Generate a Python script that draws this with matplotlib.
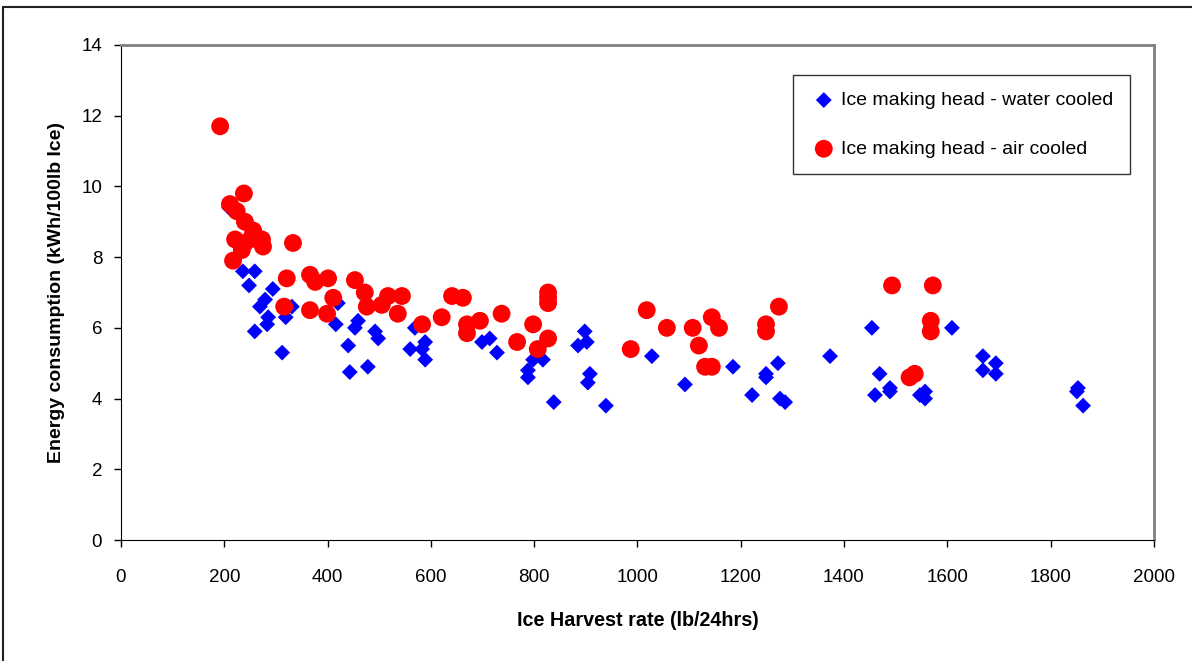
import matplotlib
matplotlib.use("Agg")
import matplotlib.pyplot as plt
import matplotlib.patches as patches

# Ice making head - water cooled
water_x = [209, 236, 259, 248, 294, 279, 269, 285, 283, 259, 331, 319, 312,
           420, 416, 459, 453, 440, 443, 478, 492, 498, 569, 589, 560, 583, 589,
           699, 714, 728, 788, 788, 798, 817, 838, 885, 898, 902, 908, 904, 939,
           1028, 1092, 1185, 1222, 1272, 1249, 1249, 1276, 1286, 1373, 1454,
           1609, 1469, 1460, 1489, 1489, 1547, 1557, 1557, 1669, 1669, 1694,
           1694, 1853, 1851, 1863]
water_y = [9.4, 7.6, 7.6, 7.2, 7.1, 6.8, 6.6, 6.3, 6.1, 5.9, 6.6, 6.3, 5.3,
           6.7, 6.1, 6.2, 6.0, 5.5, 4.75, 4.9, 5.9, 5.7, 6.0, 5.6, 5.4, 5.4, 5.1,
           5.6, 5.7, 5.3, 4.6, 4.8, 5.1, 5.1, 3.9, 5.5, 5.9, 5.6, 4.7, 4.45, 3.8,
           5.2, 4.4, 4.9, 4.1, 5.0, 4.7, 4.6, 4.0, 3.9, 5.2, 6.0,
           6.0, 4.7, 4.1, 4.3, 4.2, 4.1, 4.0, 4.2, 5.2, 4.8, 5.0,
           4.7, 4.3, 4.2, 3.8]

# Ice making head - air cooled
air_x = [192, 211, 224, 238, 240, 256, 221, 240, 273, 275, 253, 263, 217,
         234, 333, 321, 316, 366, 376, 401, 411, 366, 399, 453, 472, 476,
         505, 517, 536, 544, 583, 621, 641, 662, 670, 670, 695, 737, 767,
         798, 807, 827, 827, 827, 827, 987, 1018, 1057, 1107, 1119, 1131,
         1144, 1144, 1158, 1249, 1249, 1274, 1493, 1527, 1537, 1568, 1568,
         1572]
air_y = [11.7, 9.5, 9.3, 9.8, 9.0, 8.75, 8.5, 8.4, 8.5, 8.3, 8.55, 8.5, 7.9,
         8.2, 8.4, 7.4, 6.6, 7.5, 7.3, 7.4, 6.85, 6.5, 6.4, 7.35, 7.0, 6.6,
         6.65, 6.9, 6.4, 6.9, 6.1, 6.3, 6.9, 6.85, 6.1, 5.85, 6.2, 6.4, 5.6,
         6.1, 5.4, 7.0, 6.85, 6.7, 5.7, 5.4, 6.5, 6.0, 6.0, 5.5, 4.9,
         4.9, 6.3, 6.0, 6.1, 5.9, 6.6, 7.2, 4.6, 4.7, 6.2, 5.9,
         7.2]

x_ticks = [0, 200, 400, 600, 800, 1000, 1200, 1400, 1600, 1800, 2000]
y_ticks = [0, 2, 4, 6, 8, 10, 12, 14]

plt.rcParams["font.family"] = ["Liberation Sans", "DejaVu Sans"]

fig = plt.figure(figsize=(11.92, 6.61), dpi=100)
ax = fig.add_axes([0.1015, 0.183, 0.8665, 0.749])

ax.scatter(water_x, water_y, marker="D", s=65, color="#0000ff",
           edgecolors="none", label="Ice making head - water cooled", zorder=2)
ax.scatter(air_x, air_y, marker="o", s=165, color="#ff0000",
           edgecolors="none", label="Ice making head - air cooled", zorder=3)

ax.set_xlim(0, 2000)
ax.set_ylim(0, 14)
ax.set_xticks(x_ticks)
ax.set_yticks(y_ticks)
ax.tick_params(direction="out", length=5, width=1, labelsize=13.5)
ax.tick_params(axis="x", pad=16)
ax.tick_params(axis="y", pad=8.5)

ax.spines["top"].set_color("#808080")
ax.spines["right"].set_color("#808080")
ax.spines["top"].set_linewidth(2)
ax.spines["right"].set_linewidth(2)

ax.set_xlabel("Ice Harvest rate (lb/24hrs)", fontsize=14.2, fontweight="bold",
              labelpad=18)
ax.set_ylabel("Energy consumption (kWh/100lb Ice)", fontsize=14,
              fontweight="bold", labelpad=12)

leg = ax.legend(loc="upper left", bbox_to_anchor=(0.665, 0.8865),
                bbox_transform=fig.transFigure, fontsize=14, frameon=True,
                fancybox=False, edgecolor="black", borderpad=0.85,
                labelspacing=1.6, handletextpad=0.15, handlelength=1.5,
                borderaxespad=0)
leg.get_frame().set_linewidth(1)

# outer chart border
fig.patches.append(patches.Rectangle((0.0025, -0.01), 1.1, 0.9995,
                                     transform=fig.transFigure, fill=False,
                                     edgecolor="#202020", linewidth=1.5))

plt.savefig("out.png", dpi=100)
